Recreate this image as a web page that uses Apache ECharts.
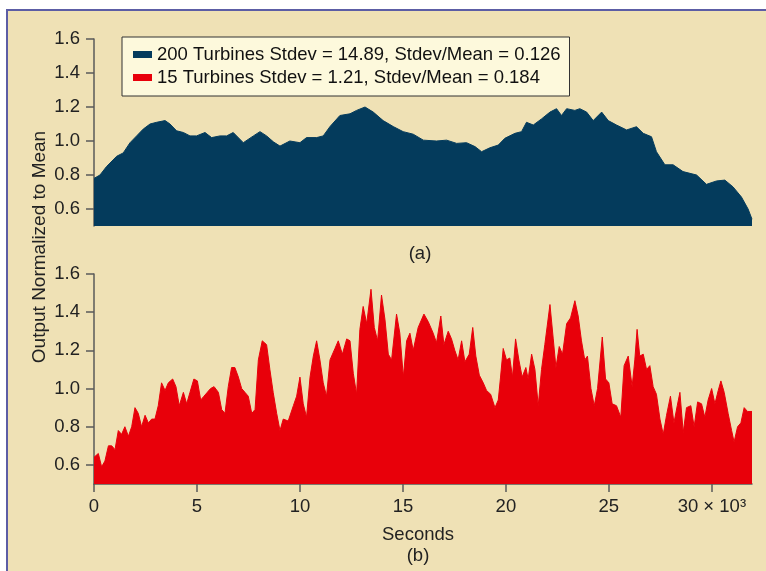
<!DOCTYPE html>
<html>
<head>
<meta charset="utf-8">
<title>Turbine output</title>
<script src="https://cdn.jsdelivr.net/npm/echarts@6/dist/echarts.min.js"></script>
<style>
  body { margin: 0; background: #fff; }
  #frame { position: absolute; left: 6px; top: 9px; width: 800px; height: 600px;
           background: #efe1b5; border: 2px solid #5c5da5; }
  #chart { position: absolute; left: 0; top: 0; width: 766px; height: 571px; }
</style>
</head>
<body>
<div id="frame"></div>
<div id="chart"></div>
<script>
// (a) 200 turbines: seconds / normalized output
var bigSec = [0, 290, 610, 1100, 1420, 1750, 2070, 2390, 2720, 3040, 3450, 3690, 4010, 4340, 4660, 4980,
  5390, 5710, 6120, 6440, 6760, 7250, 7740, 8060, 8380, 8710, 9030, 9510, 10000, 10320, 10810, 11130,
  11460, 11940, 12430, 12750, 13160, 13560, 14040, 14530, 15010, 15500, 15990, 16630, 17120, 17610,
  18090, 18500, 18820, 19220, 19630, 19950, 20440, 20760, 21000, 21330, 21730, 22140, 22460, 22700,
  22950, 23350, 23590, 23920, 24240, 24650, 24970, 25370, 25860, 26340, 26670, 27070, 27310, 27720,
  28120, 28600, 29260, 29740, 30230, 30630, 31030, 31440, 31760, 31950];
var bigVal = [0.78, 0.80, 0.85, 0.91, 0.93, 0.99, 1.03, 1.07, 1.10, 1.11, 1.12, 1.10, 1.06, 1.05, 1.03, 1.03,
  1.05, 1.02, 1.03, 1.03, 1.05, 0.99, 1.03, 1.055, 1.03, 0.995, 0.97, 1.00, 0.99, 1.02, 1.02, 1.03,
  1.085, 1.15, 1.16, 1.18, 1.20, 1.17, 1.12, 1.085, 1.055, 1.04, 1.005, 1.00, 1.005, 0.986,
  0.99, 0.967, 0.937, 0.96, 0.976, 1.016, 1.045, 1.055, 1.11, 1.094, 1.13, 1.17, 1.19, 1.15,
  1.19, 1.18, 1.19, 1.17, 1.12, 1.17, 1.12, 1.094, 1.065, 1.084, 1.045, 1.025, 0.937, 0.86,
  0.86, 0.82, 0.80, 0.745, 0.765, 0.77, 0.73, 0.67, 0.60, 0.54];

// (b) 15 turbines
var smallSec = [0, 210, 370, 530, 700, 860, 1020, 1180, 1340, 1500, 1670, 1830, 1990, 2150, 2310, 2480,
  2640, 2800, 2960, 3120, 3280, 3450, 3610, 3820, 3980, 4140, 4340, 4500, 4660, 4850, 5020, 5180,
  5340, 5500, 5660, 5830, 6040, 6200, 6360, 6520, 6680, 6840, 7010, 7170, 7330, 7490, 7660, 7820,
  7980, 8170, 8380, 8540, 8700, 8870, 9030, 9190, 9430, 9680, 9840, 10000, 10160, 10320, 10490,
  10650, 10810, 10970, 11130, 11290, 11460, 11700, 11860, 12060, 12270, 12430, 12590, 12750, 12910,
  13070, 13240, 13450, 13610, 13770, 13960, 14130, 14290, 14450, 14690, 14850, 15020, 15180, 15340,
  15500, 15740, 16020, 16230, 16470, 16630, 16840, 16990, 17200, 17360, 17520, 17680, 17850, 18010,
  18220, 18390, 18540, 18710, 18900, 19060, 19260, 19470, 19630, 19740, 19870, 20030, 20190, 20320,
  20470, 20630, 20790, 20970, 21080, 21250, 21410, 21570, 21730, 21890, 22140, 22300, 22430, 22590,
  22750, 22950, 23140, 23350, 23510, 23670, 23830, 23960, 24130, 24290, 24450, 24680, 24840, 25000,
  25160, 25370, 25580, 25740, 25940, 26130, 26260, 26370, 26500, 26670, 26830, 26990, 27150, 27310,
  27480, 27640, 27800, 27990, 28160, 28320, 28450, 28610, 28770, 28980, 29140, 29310, 29500, 29660,
  29820, 29990, 30150, 30310, 30440, 30600, 30790, 30960, 31080, 31250, 31410, 31570, 31730, 31950];
var smallVal = [0.64, 0.66, 0.59, 0.62, 0.70, 0.70, 0.68, 0.78, 0.76, 0.80, 0.75, 0.80, 0.90, 0.87, 0.80, 0.86,
  0.82, 0.84, 0.84, 0.91, 1.03, 0.99, 1.03, 1.05, 1.01, 0.91, 0.98, 0.92, 0.98, 1.05, 1.04, 0.94,
  0.96, 0.98, 1.00, 1.01, 0.98, 0.89, 0.87, 1.01, 1.11, 1.11, 1.06, 1.00, 0.98, 0.96, 0.87, 0.89,
  1.15, 1.25, 1.23, 1.10, 0.98, 0.87, 0.78, 0.84, 0.83, 0.91, 0.96, 1.06, 0.92, 0.85, 1.06,
  1.17, 1.25, 1.15, 1.03, 0.96, 1.15, 1.21, 1.25, 1.18, 1.26, 1.25, 1.08, 0.97, 1.31,
  1.43, 1.34, 1.52, 1.32, 1.25, 1.49, 1.36, 1.18, 1.15, 1.39, 1.29, 1.06, 1.25, 1.29,
  1.20, 1.32, 1.39, 1.35, 1.29, 1.24, 1.38, 1.23, 1.30, 1.26, 1.20, 1.15, 1.25, 1.14,
  1.18, 1.32, 1.17, 1.07, 1.03, 0.99, 0.97, 0.90, 0.94, 1.06, 1.21, 1.15, 1.16, 1.06,
  1.26, 1.15, 1.06, 1.11, 1.05, 1.18, 1.10, 0.91, 1.10, 1.23, 1.44, 1.26, 1.11, 1.22,
  1.18, 1.34, 1.37, 1.46, 1.38, 1.25, 1.15, 1.17, 1.00, 0.91, 1.00, 1.27, 1.05, 1.03,
  0.92, 0.91, 0.85, 1.12, 1.17, 1.01, 1.15, 1.31, 1.17, 1.18, 1.10, 1.12, 1.01, 0.97,
  0.84, 0.76, 0.86, 0.96, 0.82, 0.91, 0.98, 0.77, 0.90, 0.91, 0.80, 0.93, 0.92, 0.85,
  0.94, 1.00, 0.92, 0.99, 1.04, 0.98, 0.87, 0.78, 0.72, 0.80, 0.82, 0.90, 0.88, 0.88];

var seriesNames = ['200 Turbines Stdev = 14.89, Stdev/Mean = 0.126',
                   '15 Turbines Stdev = 1.21, Stdev/Mean = 0.184'];
var yTicks = [0.6, 0.8, 1.0, 1.2, 1.4, 1.6];
var xTicks = [0, 5000, 10000, 15000, 20000, 25000, 30000];
var xTickLabels = ['0', '5', '10', '15', '20', '25', '30 \u00d7 10\u00b3'];

function pairs(xs, ys) {
  return xs.map(function (x, i) { return [x, ys[i]]; });
}

var font = "'Liberation Sans', Arial, sans-serif";
var axisColor = '#5a5a5a';

function yAxisFor(idx) {
  return {
    gridIndex: idx, type: 'value', min: 0.5, max: 1.6,
    axisLine: { show: true, lineStyle: { color: axisColor, width: 1.5 } },
    axisTick: { show: true, length: 8, customValues: yTicks, lineStyle: { color: axisColor, width: 1.5 } },
    axisLabel: { customValues: yTicks, margin: 14, fontSize: 18.5, color: '#222', fontFamily: font,
      formatter: function (v) { return v.toFixed(1); } },
    splitLine: { show: false }
  };
}

var chart = echarts.init(document.getElementById('chart'));
chart.setOption({
  backgroundColor: 'transparent',
  animation: false,
  grid: [
    { left: 94, right: 14, top: 39, height: 187 },
    { left: 94, right: 14, top: 274, height: 210 }
  ],
  xAxis: [
    { gridIndex: 0, type: 'value', min: 0, max: 31950, show: false },
    { gridIndex: 1, type: 'value', min: 0, max: 31950,
      axisLine: { show: true, lineStyle: { color: axisColor, width: 1.5 } },
      axisTick: { show: true, length: 8, customValues: xTicks, lineStyle: { color: axisColor, width: 1.5 } },
      axisLabel: { customValues: xTicks, margin: 13, fontSize: 18.5, color: '#222', fontFamily: font,
        formatter: function (v) { return xTickLabels[xTicks.indexOf(v)]; } },
      splitLine: { show: false } }
  ],
  yAxis: [yAxisFor(0), yAxisFor(1)],
  legend: {
    orient: 'vertical', left: 122, top: 37,
    itemWidth: 19, itemHeight: 7, itemGap: 4,
    padding: [8, 9, 9, 11],
    backgroundColor: '#fdf9dc', borderColor: '#333', borderWidth: 1,
    icon: 'rect',
    textStyle: { fontSize: 18.5, color: '#111', fontFamily: font },
    data: seriesNames
  },
  series: [
    { name: seriesNames[0], type: 'line', xAxisIndex: 0, yAxisIndex: 0,
      data: pairs(bigSec, bigVal), showSymbol: false, silent: true,
      lineStyle: { width: 1, color: '#043b5c' }, itemStyle: { color: '#043b5c' },
      areaStyle: { color: '#043b5c', opacity: 1 } },
    { name: seriesNames[1], type: 'line', xAxisIndex: 1, yAxisIndex: 1,
      data: pairs(smallSec, smallVal), showSymbol: false, silent: true,
      lineStyle: { width: 1, color: '#e8000a' }, itemStyle: { color: '#e8000a' },
      areaStyle: { color: '#e8000a', opacity: 1 } }
  ],
  graphic: [
    { type: 'text', x: 420, y: 254, style: { text: '(a)', font: '18.5px ' + font, fill: '#222', textAlign: 'center', textVerticalAlign: 'middle' } },
    { type: 'text', x: 418, y: 535, style: { text: 'Seconds', font: '18.5px ' + font, fill: '#222', textAlign: 'center', textVerticalAlign: 'middle' } },
    { type: 'text', x: 418, y: 556, style: { text: '(b)', font: '18.5px ' + font, fill: '#222', textAlign: 'center', textVerticalAlign: 'middle' } },
    { type: 'text', x: 40, y: 247, rotation: Math.PI / 2, style: { text: 'Output Normalized to Mean', font: '19px ' + font, fill: '#222', textAlign: 'center', textVerticalAlign: 'middle' } }
  ]
});
</script>
</body>
</html>
